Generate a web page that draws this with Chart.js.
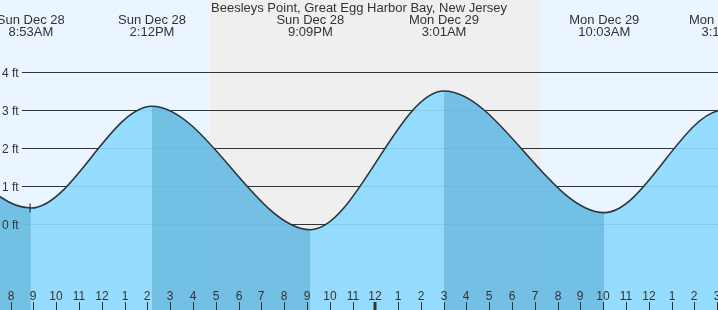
<!DOCTYPE html>
<html>
<head>
<meta charset="utf-8">
<title>Beesleys Point tides</title>
<script src="https://cdn.jsdelivr.net/npm/chart.js@4.4.1/dist/chart.umd.min.js"></script>
<style>
html, body { margin: 0; padding: 0; background: #ebf5ff; }
#wrap { position: relative; width: 718px; height: 310px; }
</style>
</head>
<body>
<div id="wrap"><canvas id="tideChart"></canvas></div>
<script>
// times are hours from midnight, Sun Dec 28
var tideTimes = [-4.6, 1.83, 8.883, 14.2, 21.15, 27.017, 34.05, 39.3, 45.6];
var tideHeights = [0.0, 3.5, 0.42, 3.1, -0.15, 3.5, 0.3, 3.0, 0.1];
var tideDays = ['', '', 'Sun Dec 28', 'Sun Dec 28', 'Sun Dec 28', 'Mon Dec 29', 'Mon Dec 29', 'Mon Dec 29', ''];
var tideClock = ['', '', '8:53AM', '2:12PM', '9:09PM', '3:01AM', '10:03AM', '3:18PM', ''];
var nightTimes = [16.75, 31.27];
var nowTime = [8.85];
var nowHeight = [0.42];
var yTicks = [0, 1, 2, 3, 4];
var xRange = [7.53, 39.04];
var yRange = [-2.263, 5.895];

var title = 'Beesleys Point, Great Egg Harbor Bay, New Jersey';
var dayColor = '#ebf5ff';
var nightColor = '#efefef';
var riseFill = 'rgba(141,217,254,0.92)';
var fallFill = 'rgba(94,174,211,0.6)';
var ink = '#333333';

var tideDecor = {
	id: 'tideDecor',
	beforeDraw: function(chart) {
		var ctx = chart.ctx;
		var x = chart.scales.x;
		var y = chart.scales.y;
		var area = chart.chartArea;
		ctx.save();
		ctx.fillStyle = dayColor;
		ctx.fillRect(0, 0, chart.width, chart.height);
		var n0 = x.getPixelForValue(nightTimes[0]);
		var n1 = x.getPixelForValue(nightTimes[1]);
		ctx.fillStyle = nightColor;
		ctx.fillRect(n0, 0, n1 - n0, chart.height);

		// foot lines, they start after the label
		ctx.strokeStyle = ink;
		ctx.lineWidth = 1;
		yTicks.forEach(function(v) {
			var py = Math.round(y.getPixelForValue(v)) + 0.5;
			ctx.beginPath();
			ctx.moveTo(22, py);
			ctx.lineTo(area.right, py);
			ctx.stroke();
		});
		ctx.restore();
	},
	afterDatasetsDraw: function(chart) {
		var ctx = chart.ctx;
		var x = chart.scales.x;
		var y = chart.scales.y;
		ctx.save();
		ctx.fillStyle = ink;
		ctx.strokeStyle = ink;
		ctx.textBaseline = 'alphabetic';

		ctx.font = '12px "Liberation Sans", Arial, sans-serif';
		ctx.textAlign = 'left';
		yTicks.forEach(function(v) {
			var py = Math.round(y.getPixelForValue(v));
			ctx.fillText(v + ' ft', 2, py + 5);
		});

		// hour ticks along the bottom
		ctx.textAlign = 'center';
		for (var h = Math.ceil(xRange[0]); h <= Math.floor(xRange[1]); h++) {
			var px = Math.round(x.getPixelForValue(h));
			var lbl = h % 12 === 0 ? 12 : h % 12;
			var midnight = h % 24 === 0;
			ctx.fillText(String(lbl), px, 300);
			ctx.lineWidth = midnight ? 3 : 1;
			ctx.beginPath();
			ctx.moveTo(midnight ? px : px + 0.5, 302);
			ctx.lineTo(midnight ? px : px + 0.5, 310);
			ctx.stroke();
		}

		ctx.font = '13px "Liberation Sans", Arial, sans-serif';
		ctx.fillText(title, chart.width / 2, 12);
		for (var i = 0; i < tideTimes.length; i++) {
			if (!tideClock[i]) continue;
			var tx = x.getPixelForValue(tideTimes[i]);
			ctx.fillText(tideDays[i], tx, 24);
			ctx.fillText(tideClock[i], tx, 36);
		}
		ctx.restore();
	}
};

var points = tideTimes.map(function(t, i) {
	return { x: t, y: tideHeights[i] };
});

var chart = new Chart(document.getElementById('tideChart'), {
	type: 'line',
	data: {
		datasets: [{
			// marker on the curve
			data: [{ x: nowTime[0], y: nowHeight[0] }],
			showLine: false,
			pointStyle: 'line',
			rotation: 90,
			pointRadius: 4.5,
			borderColor: ink,
			borderWidth: 1.2
		}, {
			// darker shade while the tide is falling
			data: points,
			borderWidth: 0,
			borderColor: 'rgba(0,0,0,0)',
			pointRadius: 0,
			cubicInterpolationMode: 'monotone',
			capBezierPoints: false,
			fill: 'start',
			backgroundColor: fallFill,
			segment: {
				backgroundColor: function(c) {
					return c.p1.parsed.y < c.p0.parsed.y ? fallFill : 'rgba(0,0,0,0)';
				}
			}
		}, {
			data: points,
			borderColor: ink,
			borderWidth: 1.6,
			pointRadius: 0,
			cubicInterpolationMode: 'monotone',
			capBezierPoints: false,
			fill: 'start',
			backgroundColor: riseFill
		}]
	},
	options: {
		responsive: true,
		maintainAspectRatio: false,
		animation: false,
		devicePixelRatio: 1,
		layout: { padding: 0, autoPadding: false },
		plugins: {
			legend: { display: false },
			title: { display: false },
			tooltip: { enabled: false },
			filler: { drawTime: 'beforeDatasetsDraw' }
		},
		scales: {
			x: { type: 'linear', min: xRange[0], max: xRange[1], display: false },
			y: { type: 'linear', min: yRange[0], max: yRange[1], display: false }
		}
	},
	plugins: [tideDecor]
});
</script>
</body>
</html>
